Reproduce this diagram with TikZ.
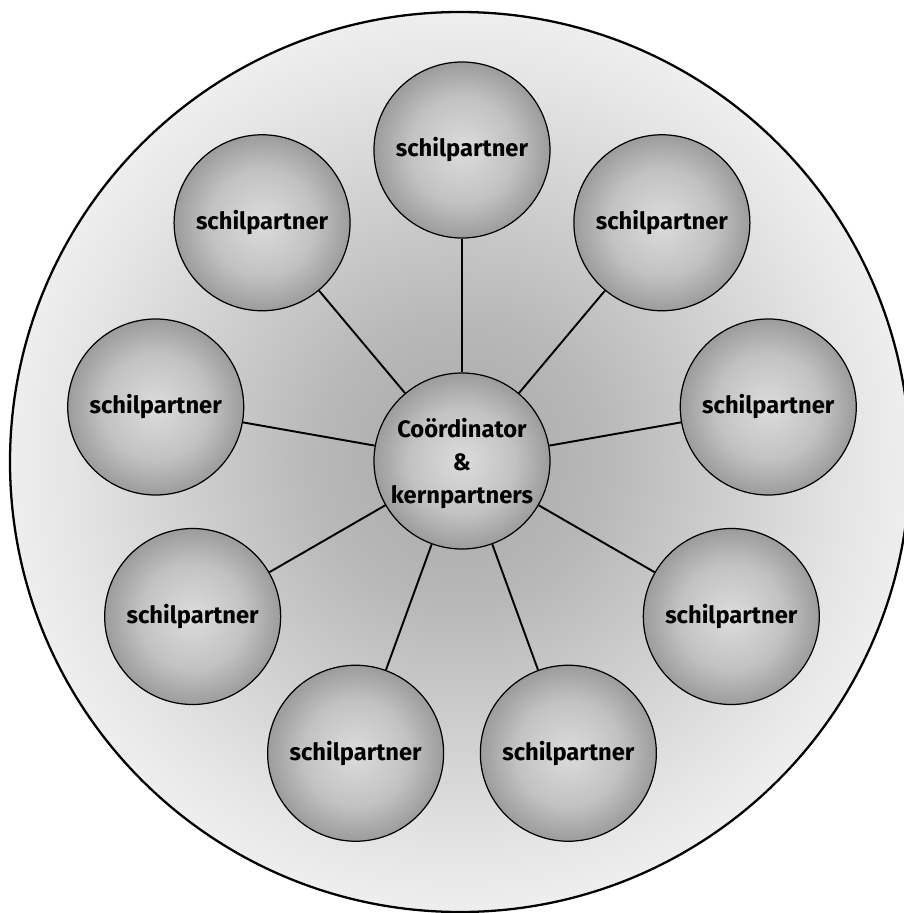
\documentclass[tikz,border=0pt]{standalone}
\usepackage{fontspec}
\setmainfont{Fira Sans}
\definecolor{ballin}{HTML}{DCDCDC}
\definecolor{ballmid}{HTML}{C2C2C2}
\definecolor{ballout}{HTML}{9C9C9C}
\definecolor{fieldin}{HTML}{A8A8A8}
\definecolor{fieldmid}{HTML}{B8B8B8}
\definecolor{fieldrim}{HTML}{E6E6E6}
\definecolor{fieldout}{HTML}{EEEEEE}
\pgfdeclareradialshading{partnerball}{\pgfpoint{0bp}{0bp}}{color(0bp)=(ballin); color(15bp)=(ballmid); color(25bp)=(ballout); color(50bp)=(ballout)}
\pgfdeclareradialshading{partnerfield}{\pgfpoint{0bp}{0bp}}{color(0bp)=(fieldin); color(8bp)=(fieldmid); color(22bp)=(fieldrim); color(25bp)=(fieldout); color(50bp)=(fieldout)}
\begin{document}
\begin{tikzpicture}[
    partner/.style={circle, draw, line width=0.7pt, minimum size=3.52cm, inner sep=0pt, shading=partnerball, font=\bfseries\fontsize{13.5}{18.7}\selectfont},
    link/.style={line width=1.1pt}]
    \useasboundingbox (-9.24,-9.04) rectangle (8.84,9.22);
    \draw[line width=1.3pt, shading=partnerfield] (-0.04,-0.02) circle (9);
    
    \node[partner, align=center, text depth=-6pt] (kern) at (0,0) {Coördinator\\\&\\kernpartners};
    
    \node[partner] (p1) at (90:6.22) {schilpartner};
    \node[partner] (p2) at (50:6.22) {schilpartner};
    \node[partner] (p3) at (10:6.22) {schilpartner};
    \node[partner] (p4) at (-30:6.22) {schilpartner};
    \node[partner] (p5) at (-70:6.22) {schilpartner};
    \node[partner] (p6) at (-110:6.22) {schilpartner};
    \node[partner] (p7) at (-150:6.22) {schilpartner};
    \node[partner] (p8) at (170:6.22) {schilpartner};
    \node[partner] (p9) at (130:6.22) {schilpartner};
    
    \draw[link] (kern) -- (p1);
    \draw[link] (kern) -- (p2);
    \draw[link] (kern) -- (p3);
    \draw[link] (kern) -- (p4);
    \draw[link] (kern) -- (p5);
    \draw[link] (kern) -- (p6);
    \draw[link] (kern) -- (p7);
    \draw[link] (kern) -- (p8);
    \draw[link] (kern) -- (p9);
    \end{tikzpicture}
\end{document}
